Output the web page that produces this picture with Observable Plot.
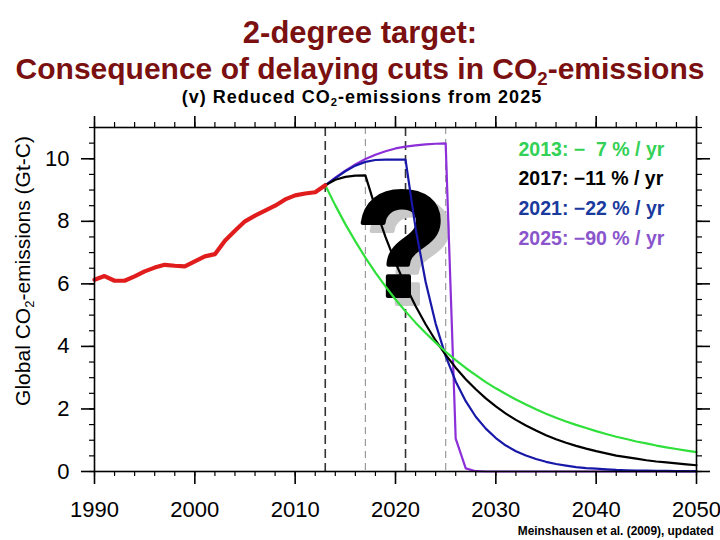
<!DOCTYPE html>
<html>
<head>
<meta charset="utf-8">
<script src="https://cdn.jsdelivr.net/npm/d3@7"></script>
<script src="https://cdn.jsdelivr.net/npm/@observablehq/plot@0.6"></script>
<style>
  body { margin: 0; background: #fff; }
  #wrap { position: relative; width: 720px; height: 540px; overflow: hidden; font-family: "Liberation Sans", Arial, sans-serif; }
  #wrap svg { position: absolute; left: 0; top: 0; }
  .t { position: absolute; left: 0; width: 720px; text-align: center; white-space: nowrap; line-height: 1; z-index: 2; }
  .sub { font-size: 0.62em; position: relative; top: 0.3em; }
  #title1 { top: 17px; font-size: 31px; font-weight: bold; color: #7a1010; }
  #title2 { top: 54px; font-size: 30px; font-weight: bold; color: #7a1010; }
  #subtitle { top: 88px; font-size: 18px; font-weight: bold; letter-spacing: 1px; color: #000; left: 2px; }
  #ylab { position: absolute; left: 22px; top: 271px; transform: translate(-50%, -50%) rotate(-90deg); font-size: 21px; line-height: 1; white-space: nowrap; z-index: 2; }
  #caption { position: absolute; right: 6px; top: 524px; font-family: "Liberation Sans", Arial, sans-serif; font-weight: bold; font-size: 13.5px; line-height: 1; white-space: nowrap; z-index: 2; transform: scaleX(0.88); transform-origin: right center; }
</style>
</head>
<body>
<div id="wrap">
  <div class="t" id="title1">2-degree target:</div>
  <div class="t" id="title2">Consequence of delaying cuts in CO<span class="sub">2</span>-emissions</div>
  <div class="t" id="subtitle">(v) Reduced CO<span class="sub">2</span>-emissions from 2025</div>
  <div id="ylab">Global CO<span class="sub">2</span>-emissions (Gt-C)</div>
  <div id="caption">Meinshausen et al. (2009), updated</div>
</div>
<script>
// ---- Data ----
const histYears = [1990,1991,1992,1993,1994,1995,1996,1997,1998,1999,2000,2001,2002,2003,2004,2005,2006,2007,2008,2009,2010,2011,2012,2013];
const histEmissions = [6.13,6.25,6.10,6.10,6.24,6.40,6.52,6.61,6.58,6.56,6.72,6.88,6.95,7.38,7.70,8.00,8.18,8.34,8.50,8.70,8.83,8.89,8.93,9.15];

const scenarioYears = [2013,2014,2015,2016,2017,2018,2019,2020,2021,2022,2023,2024,2025,2026,2027,2028,2029,2030,2031,2032,2033,2034,2035,2036,2037,2038,2039,2040,2041,2042,2043,2044,2045,2046,2047,2048,2049,2050];
const cut2013 = [9.15,8.51,7.91,7.36,6.84,6.36,5.92,5.50,5.12,4.76,4.43,4.12,3.83,3.56,3.31,3.08,2.86,2.66,2.48,2.30,2.14,1.99,1.85,1.72,1.60,1.49,1.39,1.29,1.20,1.11,1.04,0.96,0.90,0.83,0.77,0.72,0.67,0.62];
const cut2017 = [9.15,9.33,9.42,9.46,9.47,8.43,7.50,6.68,5.94,5.29,4.71,4.19,3.73,3.32,2.95,2.63,2.34,2.08,1.85,1.65,1.47,1.31,1.16,1.03,0.92,0.82,0.73,0.65,0.58,0.51,0.46,0.41,0.36,0.32,0.29,0.26,0.23,0.20];
const cut2021 = [9.15,9.38,9.60,9.78,9.90,9.96,9.97,9.97,9.97,7.78,6.07,4.73,3.69,2.88,2.25,1.75,1.37,1.07,0.83,0.65,0.51,0.40,0.31,0.24,0.19,0.14,0.11,0.09,0.07,0.05,0.04,0.03,0.03,0.02,0.02,0.01,0.01,0.01];
const cut2025 = [9.15,9.40,9.62,9.82,9.99,10.13,10.24,10.33,10.39,10.43,10.46,10.48,10.49,1.05,0.10,0.01,0,0,0,0,0,0,0,0,0,0,0,0,0,0,0,0,0,0,0,0,0,0];

const startYears = [2013, 2017, 2021, 2025];
const rateLabels = ["\u2212\u20077 % / yr", "\u221211 % / yr", "\u221222 % / yr", "\u221290 % / yr"];

const xTicks = [1990, 2000, 2010, 2020, 2030, 2040, 2050];
const yTicks = [0, 2, 4, 6, 8, 10];

// ---- Styles ----
const lineColors = {2013: "#2fe03a", 2017: "#000000", 2021: "#1818a8", 2025: "#8c2fd8"};
const legendColors = ["#33d155", "#000000", "#1a3a9e", "#8a55cc"];

const xMinor = d3.range(1990, 2051, 2);
const yMinor = d3.range(0, 11.01, 0.5);

const toRows = (vals) => scenarioYears.map((yr, i) => ({year: yr, value: vals[i]}));
const hist = histYears.map((yr, i) => ({year: yr, value: histEmissions[i]}));
const series = [
  {start: 2025, rows: toRows(cut2025)},
  {start: 2021, rows: toRows(cut2021)},
  {start: 2017, rows: toRows(cut2017)},
  {start: 2013, rows: toRows(cut2013)}
];

const legendMarks = startYears.map((yr, i) =>
  Plot.text([`${yr}: ${rateLabels[i]}`], {
    frameAnchor: "top-left", dx: 424, dy: 22 + i * 29.7,
    textAnchor: "start", lineAnchor: "middle",
    fill: legendColors[i], fontSize: 19.5, fontWeight: "bold"
  })
);

const chart = Plot.plot({
  width: 720, height: 540,
  marginLeft: 94, marginRight: 24, marginTop: 127, marginBottom: 69,
  x: {domain: [1990, 2050]},
  y: {domain: [0, 11]},
  style: {fontFamily: "Liberation Sans, Arial, sans-serif", background: "transparent", overflow: "visible"},
  marks: [
    Plot.ruleX([startYears[1], startYears[3]], {stroke: "#9a9a9a", strokeWidth: 1.2, strokeDasharray: "7,5"}),
    Plot.ruleX([startYears[0], startYears[2]], {stroke: "#333", strokeWidth: 1.6, strokeDasharray: "9,5"}),
    Plot.text(["?"], {x: 2020.6, y: 7.16, dx: 9, dy: 8, fontSize: 150, fontWeight: "bold", fill: "#c9c9c9", stroke: "#c9c9c9", strokeWidth: 4, textAnchor: "middle", lineAnchor: "middle"}),
    Plot.text(["?"], {x: 2020.6, y: 7.16, fontSize: 150, fontWeight: "bold", fill: "#000", stroke: "#000", strokeWidth: 4, textAnchor: "middle", lineAnchor: "middle"}),
    ...series.map(s => Plot.line(s.rows, {x: "year", y: "value", stroke: lineColors[s.start], strokeWidth: 2.2})),
    Plot.line(hist, {x: "year", y: "value", stroke: "#e01c1c", strokeWidth: 4.2}),
    ...legendMarks,
    Plot.frame({stroke: "#000", strokeWidth: 1.6}),
    Plot.axisX({ticks: xTicks, anchor: "bottom", tickSize: 13, tickPadding: 17, fontSize: 22, tickFormat: d => String(d), label: null, strokeWidth: 1.6}),
    Plot.axisX({ticks: xMinor, anchor: "bottom", tickSize: 5, tickFormat: () => "", label: null, strokeWidth: 1.2}),
    Plot.axisX({ticks: xTicks, anchor: "top", tickSize: 12, tickFormat: () => "", label: null, strokeWidth: 1.6}),
    Plot.axisX({ticks: xMinor, anchor: "top", tickSize: 6, tickFormat: () => "", label: null, strokeWidth: 1.2}),
    Plot.axisY({ticks: yTicks, anchor: "left", tickSize: 13, tickPadding: 12, fontSize: 22, tickFormat: d => String(d), label: null, strokeWidth: 1.6}),
    Plot.axisY({ticks: yMinor, anchor: "left", tickSize: 5, tickFormat: () => "", label: null, strokeWidth: 1.2}),
    Plot.axisY({ticks: yTicks, anchor: "right", tickSize: 13, tickFormat: () => "", label: null, strokeWidth: 1.6}),
    Plot.axisY({ticks: yMinor, anchor: "right", tickSize: 5, tickFormat: () => "", label: null, strokeWidth: 1.2})
  ]
});
document.getElementById("wrap").appendChild(chart);
</script>
</body>
</html>
